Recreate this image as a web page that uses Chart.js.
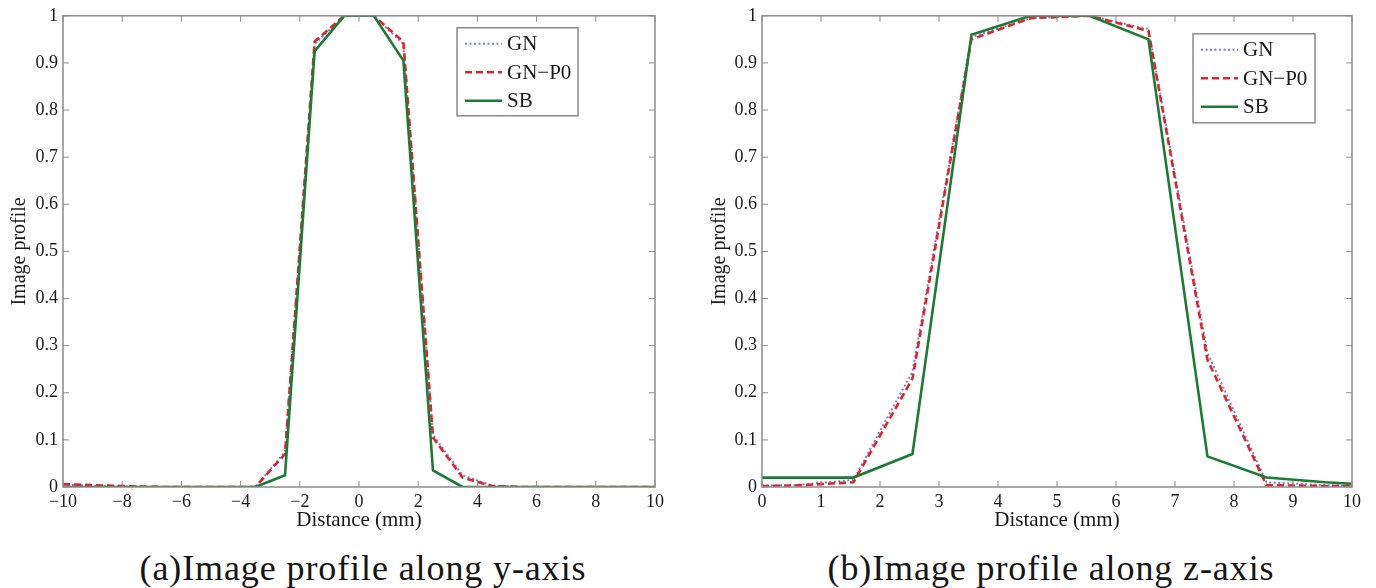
<!DOCTYPE html>
<html>
<head>
<meta charset="utf-8">
<script src="https://cdn.jsdelivr.net/npm/chart.js@4/dist/chart.umd.min.js"></script>
<style>
  body { margin: 0; background: #fff; width: 1376px; height: 588px; position: relative; overflow: hidden; }
  .box { position: absolute; top: 0; }
  .cap { position: absolute; top: 551px; font-family: "Liberation Serif", serif; font-size: 36px; line-height: 34px;
         letter-spacing: 0.9px; color: #151515; white-space: nowrap; transform: translateX(-50%); }
</style>
</head>
<body>
<div class="box" style="left:0;width:690px;height:533px"><canvas id="chartY"></canvas></div>
<div class="box" style="left:700px;width:676px;height:533px"><canvas id="chartZ"></canvas></div>
<div class="cap" style="left:363px">(a)Image profile along y-axis</div>
<div class="cap" style="left:1051px">(b)Image profile along z-axis</div>
<script>
// profile along y
const distY = [-10, -9.5, -8.5, -7.5, -6.5, -5.5, -4.5, -3.5, -2.5, -1.5, -0.5, 0.5, 1.5, 2.5, 3.5, 4.5, 5.5, 6.5, 7.5, 8.5, 9.5, 10];
const gnY   = [0.004, 0.004, 0.002, 0.001, 0, 0, 0, 0, 0.075, 0.94, 1, 1, 0.94, 0.11, 0.025, 0.003, 0, 0, 0, 0, 0, 0];
const gnp0Y = [0.006, 0.005, 0.003, 0.001, 0, 0, 0, 0, 0.07, 0.945, 1, 1, 0.945, 0.105, 0.02, 0.002, 0, 0, 0, 0, 0, 0];
const sbY   = [0, 0, 0, 0, 0, 0, 0, 0, 0.025, 0.925, 1, 1, 0.905, 0.035, 0, 0, 0, 0, 0, 0, 0, 0];

// profile along z
const distZ = [0, 0.55, 1.55, 2.55, 3.55, 4.55, 5.55, 6.55, 7.55, 8.55, 9.55, 10];
const gnZ   = [0.003, 0.004, 0.015, 0.245, 0.955, 0.995, 1, 0.972, 0.285, 0.01, 0.004, 0.003];
const gnp0Z = [0.002, 0.003, 0.01, 0.23, 0.95, 0.995, 1, 0.968, 0.27, 0.004, 0.002, 0.002];
const sbZ   = [0.02, 0.02, 0.02, 0.07, 0.96, 1, 1, 0.95, 0.065, 0.02, 0.01, 0.007];

const seriesNames = ['GN', 'GN\u2212P0', 'SB'];
const xTicksY = [-10, -8, -6, -4, -2, 0, 2, 4, 6, 8, 10];
const xTicksZ = [0, 1, 2, 3, 4, 5, 6, 7, 8, 9, 10];
const yTicks = [0, 0.1, 0.2, 0.3, 0.4, 0.5, 0.6, 0.7, 0.8, 0.9, 1];

const AXIS = '#8c8c8c';
const TEXT = '#1a1a1a';
const SERIF = '"Liberation Serif", "Times New Roman", serif';

// matlab style box with inward ticks + boxed legend
const matlabFrame = {
  id: 'matlabFrame',
  afterDraw(chart, args, opts) {
    const { ctx, chartArea: a, scales } = chart;
    ctx.save();
    ctx.strokeStyle = AXIS;
    ctx.lineWidth = 1.5;
    ctx.strokeRect(a.left, a.top, a.right - a.left, a.bottom - a.top);
    ctx.lineWidth = 1;
    ctx.beginPath();
    scales.x.ticks.forEach(t => {
      const px = scales.x.getPixelForValue(t.value);
      ctx.moveTo(px, a.bottom); ctx.lineTo(px, a.bottom - 6);
      ctx.moveTo(px, a.top); ctx.lineTo(px, a.top + 6);
    });
    scales.y.ticks.forEach(t => {
      const py = scales.y.getPixelForValue(t.value);
      ctx.moveTo(a.left, py); ctx.lineTo(a.left + 6, py);
      ctx.moveTo(a.right, py); ctx.lineTo(a.right - 6, py);
    });
    ctx.stroke();

    // legend
    const bx = a.right - opts.right - opts.w, by = a.top + opts.top;
    ctx.fillStyle = '#fff';
    ctx.fillRect(bx, by, opts.w, opts.h);
    ctx.strokeStyle = '#8a8a8a';
    ctx.lineWidth = 1.5;
    ctx.strokeRect(bx, by, opts.w, opts.h);
    ctx.font = '21px ' + SERIF;
    ctx.textBaseline = 'middle';
    ctx.fillStyle = TEXT;
    chart.data.datasets.forEach((ds, i) => {
      const ry = by + 16 + i * 28.5;
      ctx.strokeStyle = ds.borderColor;
      ctx.lineWidth = ds.borderWidth;
      ctx.setLineDash(ds.borderDash || []);
      ctx.beginPath();
      ctx.moveTo(bx + 8, ry); ctx.lineTo(bx + 45, ry);
      ctx.stroke();
      ctx.setLineDash([]);
      ctx.fillText(ds.label, bx + 50, ry + 1);
    });
    ctx.restore();
  }
};

function pts(xs, ys) { return xs.map((x, i) => ({ x: x, y: ys[i] })); }

function makeChart(id, xs, gn, gnp0, sb, xTicks, xMin, xMax, yAxisW, rightPad, legendPos) {
  return new Chart(document.getElementById(id), {
    type: 'line',
    data: {
      datasets: [
        { label: seriesNames[0], data: pts(xs, gn), borderColor: '#7a82c8', borderWidth: 2, borderDash: [2, 2.5], pointRadius: 0, order: 3 },
        { label: seriesNames[1], data: pts(xs, gnp0), borderColor: '#e0232c', borderWidth: 2.6, borderDash: [7, 4], pointRadius: 0, order: 2 },
        { label: seriesNames[2], data: pts(xs, sb), borderColor: '#1b7b34', borderWidth: 2.6, pointRadius: 0, order: 1 }
      ]
    },
    options: {
      responsive: true,
      maintainAspectRatio: false,
      animation: false,
      layout: { padding: { top: 15, right: rightPad, left: 0, bottom: 0 } },
      plugins: { legend: { display: false }, tooltip: { enabled: false }, matlabFrame: legendPos },
      scales: {
        x: {
          type: 'linear', min: xMin, max: xMax,
          afterBuildTicks: s => { s.ticks = xTicks.map(v => ({ value: v })); },
          afterFit: s => { s.height = 46; },
          grid: { display: false, drawTicks: false },
          border: { display: false },
          ticks: { padding: 4, color: TEXT, font: { family: SERIF, size: 18 }, maxRotation: 0, autoSkip: false,
                   callback: v => String(v).replace('-', '\u2212') },
          title: { display: true, text: 'Distance (mm)', color: TEXT, font: { family: SERIF, size: 21 }, padding: { top: 0, bottom: 0 } }
        },
        y: {
          min: 0, max: 1,
          afterBuildTicks: s => { s.ticks = yTicks.map(v => ({ value: v })); },
          afterFit: s => { s.width = yAxisW; },
          grid: { display: false, drawTicks: false },
          border: { display: false },
          ticks: { padding: 5, color: TEXT, font: { family: SERIF, size: 18 }, autoSkip: false,
                   callback: v => String(v) },
          title: { display: true, text: 'Image profile', color: TEXT, font: { family: SERIF, size: 20 }, padding: { top: 8, bottom: 0 } }
        }
      }
    },
    plugins: [matlabFrame]
  });
}

makeChart('chartY', distY, gnY, gnp0Y, sbY, xTicksY, -10, 10, 63, 35, { right: 77, top: 12, w: 121, h: 88 });
makeChart('chartZ', distZ, gnZ, gnp0Z, sbZ, xTicksZ, 0, 10, 62, 24, { right: 37, top: 18, w: 122, h: 89 });
</script>
</body>
</html>
